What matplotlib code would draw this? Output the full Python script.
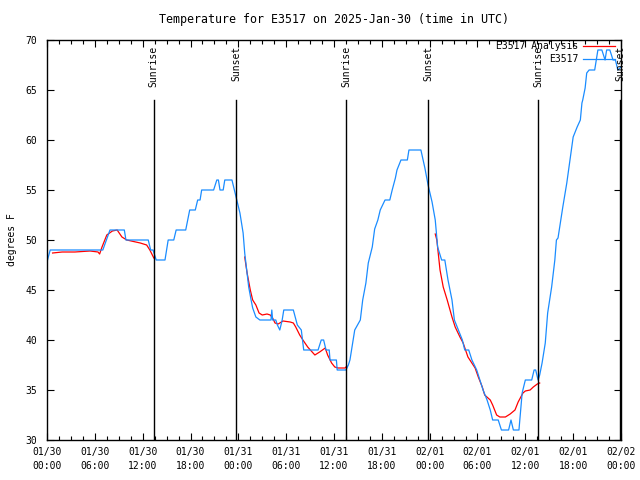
import numpy as np
import matplotlib
matplotlib.use("Agg")
import matplotlib.pyplot as plt

# horas desde 01/30 00:00 UTC
obs_horas = [0.0, 0.4, 7.0, 7.9, 9.7, 9.9, 12.7, 13.0, 13.3, 13.7, 14.8, 15.2, 15.9, 16.2,
             17.4, 17.9, 18.6, 18.9, 19.2, 19.4, 20.9, 21.3, 21.5, 21.7, 22.1, 22.3, 23.2,
             23.5, 23.8, 24.2, 24.6, 24.8, 25.1, 25.3, 25.6, 25.8, 26.2, 26.7, 28.1, 28.2,
             28.3, 28.7, 28.9, 29.2, 29.5, 29.7, 30.9, 31.4, 31.9, 32.2, 34.0, 34.4, 34.7,
             35.0, 35.4, 35.5, 36.3, 36.4, 37.5, 37.8, 38.0, 38.6, 39.3, 39.6, 40.0, 40.3,
             40.8, 41.1, 41.5, 41.8, 42.4, 43.0, 43.3, 43.7, 43.9, 44.4, 45.2, 45.4, 46.9,
             47.4, 47.8, 48.3, 48.7, 49.0, 49.5, 49.9, 50.3, 50.8, 51.1, 51.6, 52.1, 52.4,
             52.9, 53.3, 53.9, 54.3, 54.7, 55.2, 55.6, 55.9, 56.6, 57.0, 57.9, 58.2, 58.5,
             59.2, 59.6, 60.0, 60.8, 61.1, 61.3, 61.6, 61.8, 62.1, 62.5, 62.8, 63.3, 63.7,
             63.9, 64.1, 64.7, 65.2, 65.6, 66.0, 66.5, 66.9, 67.1, 67.2, 67.5, 67.7, 68.0,
             68.7, 69.1, 69.6, 70.0, 70.2, 70.6, 71.0, 71.3, 71.6, 72.0]
obs_temp = [47.8, 49, 49, 51, 51, 50, 50, 49, 49, 48, 48, 50, 50, 51,
            51, 53, 53, 54, 54, 55, 55, 56, 56, 55, 55, 56, 56,
            55, 54, 52.7, 50.7, 48.7, 46.7, 45.3, 44, 43.2, 42.3, 42, 42, 43,
            42, 42, 41.5, 41, 42, 43, 43, 41.5, 41, 39, 39, 40, 40,
            39, 39, 38, 38, 37, 37, 37.5, 38, 41, 42, 44, 45.7, 47.7,
            49.3, 51.1, 52, 53, 54, 54, 55, 56.2, 57, 58, 58, 59, 59,
            57.2, 55.5, 53.8, 52, 49.3, 48, 48, 46, 44, 42, 41, 40, 39,
            39, 38, 37, 36, 35, 34, 33, 32, 32, 31, 31, 32, 31,
            31, 34.7, 36, 36, 37, 37, 36, 36.5, 37.7, 39.7, 42.7, 45.3, 48,
            50, 50.2, 53.3, 55.7, 58, 60.3, 61.3, 62, 63.7, 64, 65.2, 66.7, 67,
            67, 69, 69, 68, 69, 69, 68, 68, 67, 67.3]

# analise (com lacunas = nan)
ana_horas = [0.7, 1.9, 3.5, 5.4, 6.4, 6.6, 6.9, 7.5, 8.2, 8.8, 9.4, 10.0, 11.7, 12.5, 12.9, 13.4,
             np.nan,
             24.8, 25.1, 25.5, 25.8, 26.2, 26.6, 27.0, 27.6, 28.0, 28.3, 28.6, 29.0, 29.6, 30.5,
             30.9, 31.2, 31.7, 32.1, 32.7, 33.6, 34.2, 34.9, 35.2, 35.7, 36.1, 36.5, 37.4, 37.6,
             np.nan,
             48.7, 48.9, 49.3, 49.7, 50.2, 50.8, 51.2, 51.8, 52.2, 52.8, 53.7, 54.1, 54.6, 54.9,
             55.6, 55.9, 56.4, 56.8, 57.5, 58.1, 58.7, 59.1, 59.7, 60.0, 60.6, 61.0, 61.5, 61.8]
ana_temp = [48.7, 48.8, 48.8, 48.9, 48.8, 48.6, 49.3, 50.5, 50.9, 51, 50.3, 50, 49.7, 49.5, 49, 48.2,
            np.nan,
            48.3, 46.7, 45, 44, 43.5, 42.7, 42.5, 42.6, 42.5, 42.2, 41.7, 41.6, 41.9, 41.8,
            41.7, 41.3, 40.5, 40, 39.3, 38.5, 38.8, 39.2, 38.5, 37.7, 37.3, 37.2, 37.2, 37.4,
            np.nan,
            50.6, 50, 47, 45.3, 44, 42.3, 41.3, 40.3, 39.7, 38.3, 37.2, 36.3, 35.3, 34.5,
            34, 33.5, 32.5, 32.3, 32.3, 32.6, 33, 33.8, 34.7, 34.9, 35, 35.3, 35.6, 35.7]

nascer = [13.4, 37.5, 61.6]
por = [23.7, 47.8, 71.9]

xticks = np.arange(0, 73, 6)
xlabels = ["01/30\n00:00", "01/30\n06:00", "01/30\n12:00", "01/30\n18:00",
           "01/31\n00:00", "01/31\n06:00", "01/31\n12:00", "01/31\n18:00",
           "02/01\n00:00", "02/01\n06:00", "02/01\n12:00", "02/01\n18:00",
           "02/02\n00:00"]

plt.rcParams["font.family"] = "DejaVu Sans Mono"
plt.rcParams["font.size"] = 7

fig = plt.figure(figsize=(6.4, 4.8), dpi=100)
ax = fig.add_axes([47 / 640, 40 / 480, 574 / 640, 400 / 480])

ax.plot(ana_horas, ana_temp, color="red", lw=0.9, label="E3517 Analysis")
ax.plot(obs_horas, obs_temp, color="#1a8cff", lw=0.9, label="E3517")

# linhas de nascer/por do sol
for h in nascer:
    ax.plot([h, h], [30, 64], color="black", lw=1)
    ax.text(h, 69.4, "Sunrise", rotation=90, ha="center", va="top")
for h in por:
    ax.plot([h, h], [30, 64], color="black", lw=1)
    ax.text(h, 69.4, "Sunset", rotation=90, ha="center", va="top")

ax.set_xlim(0, 72)
ax.set_ylim(30, 70)
ax.set_xticks(xticks)
ax.set_xticklabels(xlabels, linespacing=1.5)
ax.set_xticks(np.arange(0, 72.1, 1.5), minor=True)
ax.set_yticks(np.arange(30, 71, 5))
ax.tick_params(which="both", direction="in", top=True, right=True, width=0.8)
ax.tick_params(which="major", length=5)
ax.tick_params(axis="x", which="major", pad=5)
ax.tick_params(axis="y", which="major", pad=7)
ax.tick_params(which="minor", length=3)
for s in ax.spines.values():
    s.set_linewidth(1)

ax.set_ylabel("degrees F", labelpad=6)
ax.set_title("Temperature for E3517 on 2025-Jan-30 (time in UTC)", pad=12)

ax.legend(loc="upper right", bbox_to_anchor=(1.0, 1.012), frameon=False,
          markerfirst=False, handlelength=3.3, handletextpad=0.5,
          labelspacing=0.35, borderaxespad=0.2)

fig.savefig("out.png", dpi=100)
